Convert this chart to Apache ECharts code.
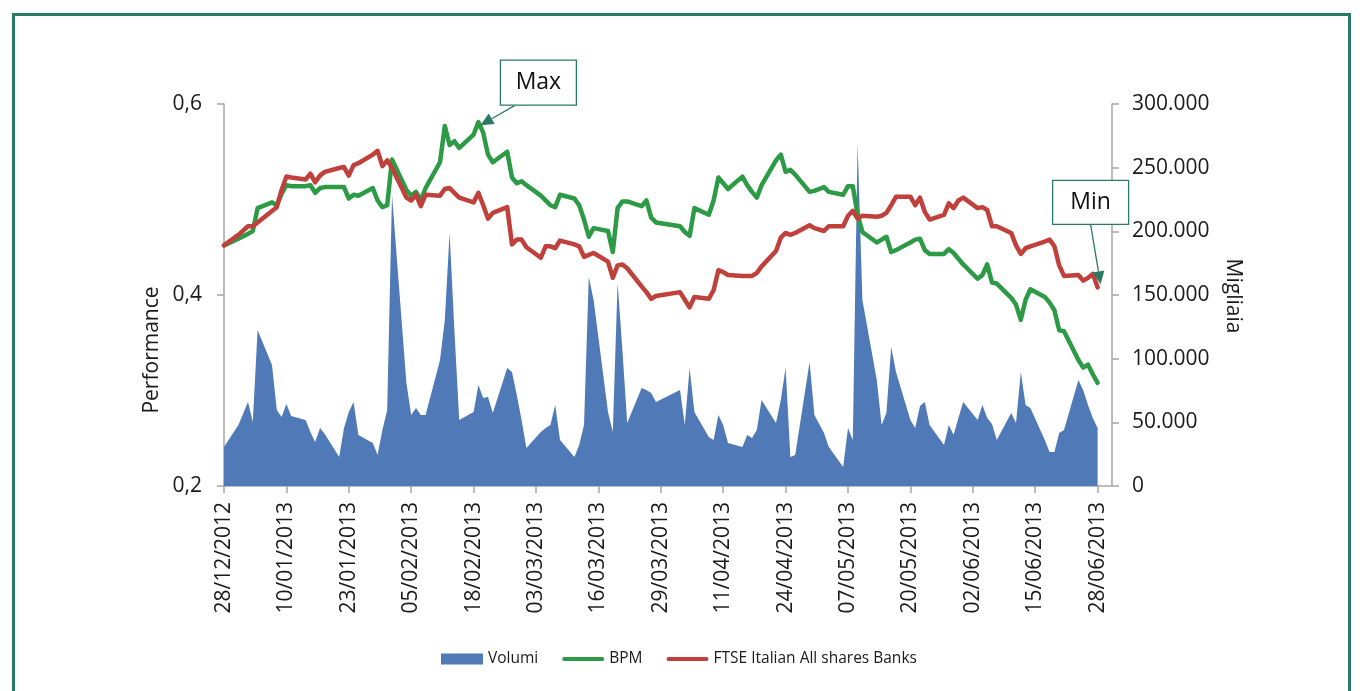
<!DOCTYPE html>
<html>
<head>
<meta charset="utf-8">
<title>BPM - Performance e volumi</title>
<script src="https://cdn.jsdelivr.net/npm/echarts@6/dist/echarts.min.js"></script>
<style>
    html, body { margin: 0; padding: 0; background: #fff; }
    #frame {
        position: absolute; left: 12px; top: 13px;
        width: 1339px; height: 700px;
        border: 3px solid #2b7b64; box-sizing: border-box;
    }
    #chart { position: absolute; left: 0; top: 0; width: 1362px; height: 691px; }
</style>
</head>
<body>
<div id="frame"></div>
<div id="chart"></div>
<script>
// etichette dell'asse x (ogni 13 giorni)
const tickLabels = [
    '28/12/2012', '10/01/2013', '23/01/2013', '05/02/2013', '18/02/2013',
    '03/03/2013', '16/03/2013', '29/03/2013', '11/04/2013', '24/04/2013',
    '07/05/2013', '20/05/2013', '02/06/2013', '15/06/2013', '28/06/2013'
];

// una riga per settimana (lun-ven), null = borsa chiusa
const volumi = [
    30600,
    47900, null, 66000, 50300, 122500,
    95000, 59700, 54200, 64400, 55000,
    51800, 42400, 34600, 45500, 40800,
    22800, 45500, 58100, 66000, 40000,
    33800, 24300, 44000, 59700, 228500,
    80900, 55800, 61300, 55800, 55800,
    98900, 130400, 198700, 122500, 51800,
    58100, 79300, 69100, 69900, 57300,
    92700, 89500, 71500, 51800, 29800,
    42400, 45500, 47900, 63600, 36100,
    22800, 32200, 47900, 164100, 146100,
    58100, 42400, 159400, 106800, 49500,
    77000, 75400, 73000, 66000, null,
    null, 75400, 47900, 92700, 58100,
    38500, 36100, 55800, 47900, 33800,
    30600, 40000, 37700, 44000, 67500,
    49500, 67500, 92700, 22800, 24300,
    97400, 55800, null, 41600, 30600,
    14900, 45500, 36100, 269400, 146100,
    83200, 47900, 57300, 109200, 89500,
    51800, 45500, 62800, 66000, 47900,
    32200, 47900, 40000, 53400, 66000,
    51800, 63600, 53400, 48700, 36100,
    57300, 49500, 89500, 63600, 61300,
    36100, 26700, 26700, 41600, 44000,
    83200, 75400, 63600, 53400, 45500
];

const bpm = [
    0.452,
    0.459, null, 0.464, 0.467, 0.491,
    0.497, 0.494, 0.506, 0.515, 0.514,
    0.514, 0.515, 0.507, 0.512, 0.513,
    0.513, 0.513, 0.501, 0.505, 0.504,
    0.512, 0.499, 0.492, 0.494, 0.542,
    0.510, 0.504, 0.508, 0.499, 0.512,
    0.539, 0.577, 0.557, 0.561, 0.554,
    0.568, 0.581, 0.570, 0.547, 0.539,
    0.550, 0.523, 0.517, 0.519, 0.515,
    0.504, 0.499, 0.494, 0.492, 0.505,
    0.501, 0.494, 0.479, 0.461, 0.470,
    0.467, 0.445, 0.491, 0.498, 0.498,
    0.493, 0.499, 0.481, 0.476, null,
    null, 0.472, 0.466, 0.462, 0.491,
    0.484, 0.499, 0.523, 0.517, 0.511,
    0.524, 0.515, 0.508, 0.502, 0.515,
    0.541, 0.547, 0.529, 0.531, 0.526,
    0.508, 0.509, null, 0.513, 0.508,
    0.505, 0.514, 0.514, 0.484, 0.466,
    0.455, 0.458, 0.461, 0.445, 0.447,
    0.455, 0.458, 0.459, 0.447, 0.443,
    0.443, 0.448, 0.444, 0.438, 0.432,
    0.417, 0.421, 0.432, 0.413, 0.412,
    0.397, 0.390, 0.374, 0.395, 0.406,
    0.398, 0.392, 0.384, 0.363, 0.362,
    0.332, 0.324, 0.327, 0.317, 0.308
];

const ftse = [
    0.452,
    0.463, null, 0.472, 0.472, 0.476,
    0.488, 0.492, 0.510, 0.524, 0.523,
    0.521, 0.527, 0.518, 0.525, 0.529,
    0.533, 0.534, 0.525, 0.536, 0.538,
    0.547, 0.551, 0.535, 0.541, 0.533,
    0.502, 0.499, 0.505, 0.493, 0.505,
    0.504, 0.511, 0.512, 0.507, 0.502,
    0.497, 0.507, 0.494, 0.480, 0.486,
    0.492, 0.453, 0.458, 0.458, 0.450,
    0.439, 0.451, 0.451, 0.449, 0.457,
    0.453, 0.451, 0.440, 0.442, 0.444,
    0.435, 0.418, 0.431, 0.432, 0.428,
    0.409, 0.403, 0.396, 0.399, null,
    null, 0.403, 0.395, 0.387, 0.398,
    0.396, 0.405, 0.426, 0.424, 0.421,
    0.420, 0.420, 0.420, 0.423, 0.430,
    0.446, 0.460, 0.465, 0.463, 0.465,
    0.473, 0.470, null, 0.467, 0.472,
    0.472, 0.483, 0.488, 0.480, 0.483,
    0.482, 0.483, 0.486, 0.494, 0.503,
    0.503, 0.494, 0.502, 0.487, 0.479,
    0.484, 0.496, 0.491, 0.499, 0.502,
    0.491, 0.492, 0.489, 0.472, 0.472,
    0.465, 0.452, 0.443, 0.449, 0.451,
    0.456, 0.458, 0.451, 0.431, 0.420,
    0.421, 0.415, 0.418, 0.422, 0.408
];

// giorni lavorativi dal 28/12/2012, come scostamento in giorni
const start = Date.UTC(2012, 11, 28);
const days = [];
for (let d = 0; d <= 182; d++) {
    const wd = new Date(start + d * 86400000).getUTCDay();
    if (wd !== 0 && wd !== 6) days.push(d);
}
const pair = arr => days.map((d, i) => [d, arr[i]]);

const FONT = 'Open Sans';
const TEAL = '#2b7b64';
const axisGrey = '#a6a6a6';
// icona legenda: barra sottile con estremi arrotondati
const lineIcon = 'path://M2,0 L40,0 A2,2 0 0 1 40,4 L2,4 A2,2 0 0 1 2,0 Z';

const myChart = echarts.init(document.getElementById('chart'));

const option = {
    animation: false,
    textStyle: { fontFamily: FONT },
    grid: { left: 224, right: 250, top: 104, bottom: 205 },
    legend: {
        left: 436,
        top: 646,
        itemWidth: 42,
        itemHeight: 11,
        itemGap: 24,
        textStyle: { fontFamily: FONT, fontSize: 15.5, color: '#1a1a1a' },
        data: [
            { name: 'Volumi', icon: 'rect' },
            { name: 'BPM', icon: lineIcon },
            { name: 'FTSE Italian All shares Banks', icon: lineIcon }
        ]
    },
    xAxis: {
        type: 'value',
        min: 0,
        max: 185,
        interval: 13,
        splitLine: { show: false },
        axisLine: { show: true, lineStyle: { color: axisGrey, width: 1.5 } },
        axisTick: {
            show: true, length: 7,
            lineStyle: { color: axisGrey, width: 1.5 },
            customValues: tickLabels.map((t, i) => i * 13)
        },
        axisLabel: {
            rotate: 90,
            margin: 16,
            fontSize: 21,
            color: '#1a1a1a',
            customValues: tickLabels.map((t, i) => i * 13),
            formatter: v => tickLabels[Math.round(v / 13)] || ''
        }
    },
    yAxis: [
        {
            type: 'value',
            min: 0.2,
            max: 0.6,
            interval: 0.2,
            splitLine: { show: false },
            axisLine: { show: true, lineStyle: { color: axisGrey, width: 1.5 } },
            axisTick: { show: true, length: 7, lineStyle: { color: axisGrey, width: 1.5 } },
            axisLabel: {
                margin: 22,
                fontSize: 21,
                color: '#1a1a1a',
                formatter: v => v.toFixed(1).replace('.', ',')
            }
        },
        {
            type: 'value',
            min: 0,
            max: 300000,
            interval: 50000,
            position: 'right',
            splitLine: { show: false },
            axisLine: { show: true, lineStyle: { color: axisGrey, width: 1.5 } },
            axisTick: { show: true, length: 7, lineStyle: { color: axisGrey, width: 1.5 } },
            axisLabel: {
                margin: 20,
                fontSize: 21,
                color: '#1a1a1a',
                formatter: v => String(v).replace(/\B(?=(\d{3})+(?!\d))/g, '.')
            }
        }
    ],
    series: [
        {
            name: 'Volumi',
            type: 'line',
            yAxisIndex: 1,
            data: pair(volumi),
            connectNulls: true,
            symbol: 'none',
            color: '#5079b8',
            lineStyle: { width: 0 },
            areaStyle: { color: '#5079b8', opacity: 1 },
            z: 1
        },
        {
            name: 'BPM',
            type: 'line',
            data: pair(bpm),
            connectNulls: true,
            symbol: 'none',
            color: '#2d9a45',
            lineStyle: { width: 4.5, join: 'round', cap: 'round' },
            z: 2
        },
        {
            name: 'FTSE Italian All shares Banks',
            type: 'line',
            data: pair(ftse),
            connectNulls: true,
            symbol: 'none',
            color: '#c0403b',
            lineStyle: { width: 4.5, join: 'round', cap: 'round' },
            z: 3
        }
    ]
};

myChart.setOption(option);

// riquadro con freccia verso un punto
function annotation(tip, box, from, text) {
    const dx = tip[0] - from[0], dy = tip[1] - from[1];
    const len = Math.hypot(dx, dy);
    const ux = dx / len, uy = dy / len;
    const hl = 13, hw = 6;
    const bx = tip[0] - ux * hl, by = tip[1] - uy * hl;
    return [
        {
            type: 'line', z: 100,
            shape: { x1: from[0], y1: from[1], x2: bx, y2: by },
            style: { stroke: TEAL, lineWidth: 1.3 }
        },
        {
            type: 'polygon', z: 100,
            shape: { points: [[tip[0], tip[1]], [bx - uy * hw, by + ux * hw], [bx + uy * hw, by - ux * hw]] },
            style: { fill: TEAL }
        },
        {
            type: 'rect', z: 100,
            shape: { x: box[0], y: box[1], width: box[2], height: box[3] },
            style: { fill: '#fff', stroke: TEAL, lineWidth: 1.3 }
        },
        {
            type: 'text', z: 101,
            x: box[0] + box[2] / 2, y: box[1] + box[3] / 2,
            style: { text, fontSize: 23, fontFamily: FONT, fill: '#111', align: 'center', verticalAlign: 'middle' }
        }
    ];
}

const maxIdx = bpm.indexOf(Math.max(...bpm.filter(v => v !== null)));
const pMax = myChart.convertToPixel({ xAxisIndex: 0, yAxisIndex: 0 }, [days[maxIdx], bpm[maxIdx]]);
const last = ftse.length - 1;
const pMin = myChart.convertToPixel({ xAxisIndex: 0, yAxisIndex: 0 }, [days[last], ftse[last]]);

const graphics = []
    .concat(annotation([pMax[0] + 2, pMax[1] + 3], [pMax[0] + 22, pMax[1] - 62, 76, 45], [pMax[0] + 37, pMax[1] - 17], 'Max'))
    .concat(annotation([pMin[0] + 3, pMin[1] - 3], [pMin[0] - 45, pMin[1] - 107, 76, 44], [pMin[0] - 7, pMin[1] - 63], 'Min'));

graphics.push(
    {
        type: 'text', x: 152, y: 350, rotation: Math.PI / 2,
        style: { text: 'Performance', fontSize: 21, fontFamily: FONT, fill: '#1a1a1a', align: 'center', verticalAlign: 'middle' }
    },
    {
        type: 'text', x: 1233, y: 296, rotation: -Math.PI / 2,
        style: { text: 'Migliaia', fontSize: 21, fontFamily: FONT, fill: '#1a1a1a', align: 'center', verticalAlign: 'middle' }
    }
);

myChart.setOption({ graphic: graphics });
</script>
</body>
</html>
